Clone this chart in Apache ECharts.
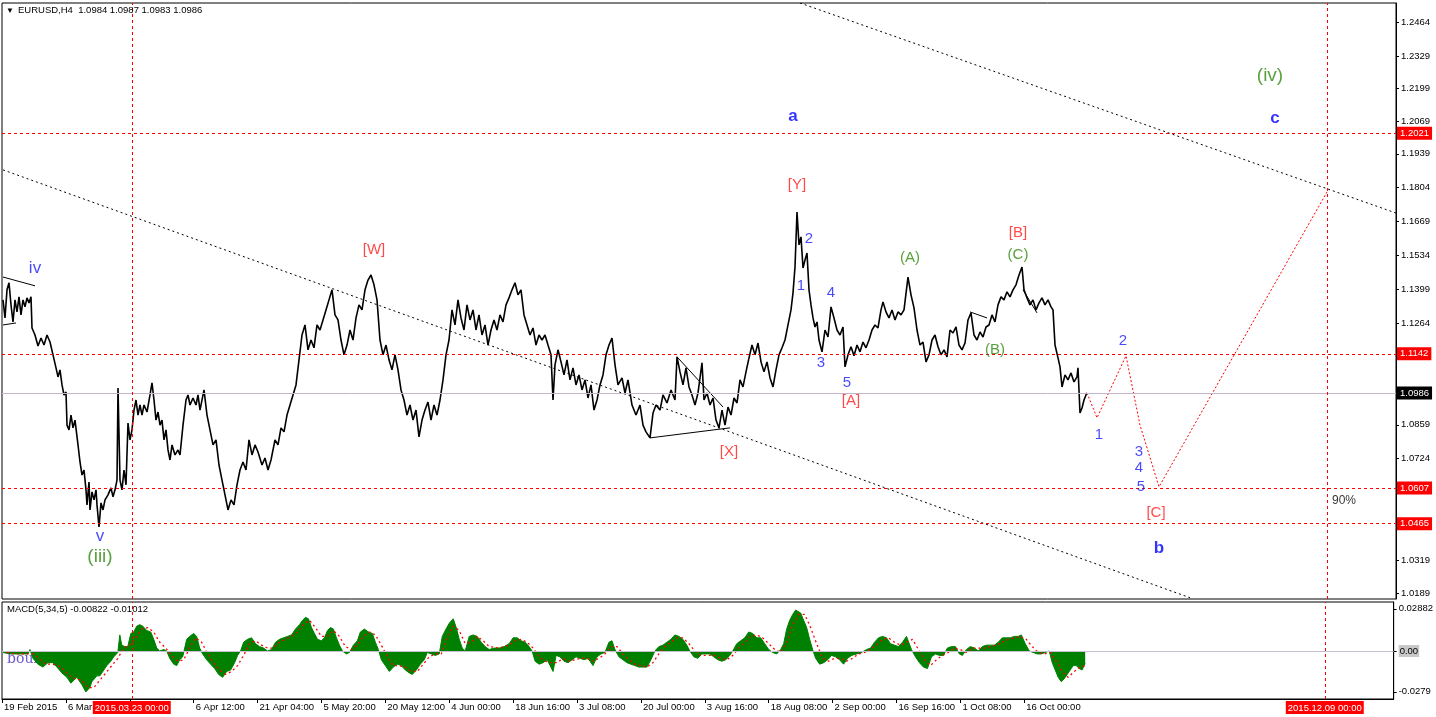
<!DOCTYPE html>
<html><head><meta charset="utf-8">
<script src="https://cdn.jsdelivr.net/npm/echarts@6/dist/echarts.min.js"></script>
<style>html,body{margin:0;padding:0;background:#fff}#c{width:1436px;height:717px}</style>
</head><body><div id="c"></div>
<script>
const FONT = '"Liberation Sans", Arial, sans-serif';

// bar index (H4 bars since 19 Feb 2015 00:00) , price
const price = [
[1,1.1357],[3,1.1285],[5,1.1397],[7,1.1425],[9,1.1337],[11,1.1269],[13,1.1357],[15,1.1309],[17,1.1369],[19,1.1297],[21,1.1357],[23,1.1329],[25,1.1365],[27,1.1345],[29,1.1369],[30,1.1245],[33,1.1217],[36,1.1173],[39,1.1205],[42,1.1177],[45,1.1217],[48,1.1189],[51,1.1138],[54,1.1086],[56,1.1050],[58,1.1078],[60,1.1018],[62,1.0978],[64,1.0990],[65,1.0858],[67,1.0839],[69,1.0898],[71,1.0847],[73,1.0878],[76,1.0779],[78,1.0711],[80,1.0659],[82,1.0679],[84,1.0600],[85,1.0540],[87,1.0631],[88,1.0520],[90,1.0592],[92,1.0560],[94,1.0600],[95,1.0540],[97,1.0452],[99,1.0548],[101,1.0520],[103,1.0560],[106,1.0580],[109,1.0608],[111,1.0572],[113,1.0600],[115,1.0639],[116,1.1006],[118,1.0639],[120,1.0600],[122,1.0679],[124,1.0620],[126,1.0866],[128,1.0799],[130,1.0839],[132,1.0918],[134,1.0958],[136,1.0898],[138,1.0938],[140,1.0898],[142,1.0938],[145,1.0910],[148,1.0978],[150,1.1026],[152,1.0958],[154,1.0878],[156,1.0910],[158,1.0858],[160,1.0878],[162,1.0799],[164,1.0839],[166,1.0759],[168,1.0719],[170,1.0779],[173,1.0739],[176,1.0759],[178,1.0739],[181,1.0858],[184,1.0958],[186,1.0978],[188,1.0938],[191,1.0966],[194,1.0938],[196,1.0978],[198,1.0918],
[202,1.0998],[205,1.0898],[208,1.0839],[211,1.0779],[214,1.0799],[217,1.0699],[220,1.0639],[223,1.0580],[226,1.0520],[229,1.0560],[232,1.0540],[235,1.0620],[238,1.0679],[241,1.0711],[244,1.0679],[247,1.0799],[250,1.0739],[253,1.0779],[256,1.0751],[260,1.0699],[263,1.0727],[266,1.0679],[269,1.0719],[273,1.0799],[276,1.0779],[279,1.0847],[282,1.0831],[285,1.0898],[288,1.0938],[291,1.0978],[294,1.1018],[297,1.1118],[300,1.1217],[303,1.1257],[306,1.1158],[309,1.1197],[312,1.1166],[315,1.1257],[318,1.1237],[321,1.1277],[324,1.1317],[327,1.1357],[330,1.1397],[333,1.1297],[336,1.1277],[339,1.1197],[342,1.1138],[345,1.1177],[348,1.1237],[351,1.1197],[354,1.1285],[357,1.1337],[360,1.1317],[363,1.1397],[366,1.1436],[369,1.1456],[372,1.1417],[375,1.1357],[378,1.1197],[381,1.1138],[384,1.1177],[387,1.1118],[390,1.1078],[393,1.1138],[396,1.1078],[399,1.0998],[402,1.0958],[405,1.0898],[408,1.0938],[411,1.0878],[414,1.0918],[417,1.0811],[420,1.0878],[423,1.0918],[426,1.0950],[429,1.0878],[432,1.0938],[435,1.0898],[438,1.0958],[441,1.1038],[444,1.1138],[447,1.1197],[450,1.1317],[453,1.1257],[456,1.1357],[459,1.1285],[462,1.1237],[465,1.1337],[468,1.1277],[471,1.1317],[474,1.1237],[477,1.1297],[480,1.1217],[483,1.1257],[486,1.1177],[489,1.1237],[492,1.1277],[495,1.1237],[498,1.1297],[501,1.1269],[504,1.1337],[507,1.1365],[510,1.1397],[513,1.1425],[516,1.1377],[519,1.1397],[522,1.1297],[525,1.1257],[528,1.1217],[531,1.1245],[534,1.1177],[537,1.1217],[540,1.1197],[543,1.1217],[546,1.1177],[549,1.1138],[551,1.0958],[553,1.1098],[556,1.1158],[559,1.1110],[562,1.1058],[565,1.1118],[568,1.1038],[571,1.1086],[574,1.1018],[577,1.1058],[580,1.0998],[583,1.1038],[586,1.0966],[589,1.1018],[592,1.0918],[595,1.0958],[598,1.1018],[601,1.1058],[604,1.1138],[607,1.1177],[610,1.1205],[613,1.1098],[616,1.1018],
[620,1.1046],[623,1.0986],[626,1.1038],[630,1.0938],[634,1.0898],[638,1.0938],[641,1.0858],[644,1.0831],[648,1.0807],[651,1.0906],[654,1.0938],[658,1.0918],[661,1.0978],[665,1.0946],[669,1.0998],[673,1.0958],[675,1.1130],[678,1.1070],[681,1.1018],[684,1.1086],[687,1.1010],[690,1.0978],[693,1.0938],[696,1.0986],[700,1.1106],[702,1.0958],[705,1.0986],[708,1.0938],[711,1.0966],[714,1.0878],[717,1.0847],[720,1.0918],[723,1.0858],[726,1.0930],[729,1.0898],[732,1.0966],[735,1.0946],[738,1.1038],[741,1.1010],[744,1.1070],[747,1.1126],[750,1.1177],[753,1.1138],[756,1.1185],[759,1.1110],[762,1.1070],[765,1.1110],[768,1.1046],[771,1.1010],[774,1.1078],[777,1.1138],[780,1.1166],[783,1.1197],[786,1.1257],[789,1.1317],[791,1.1385],[793,1.1488],[795,1.1707],[797,1.1576],[799,1.1608],[801,1.1484],[803,1.1516],[805,1.1544],[807,1.1397],[809,1.1337],[811,1.1285],[813,1.1249],[815,1.1269],[817,1.1197],[820,1.1150],[823,1.1237],[826,1.1209],[829,1.1329],[832,1.1285],[835,1.1237],[838,1.1217],[841,1.1249],[843,1.1090],[846,1.1138],[849,1.1170],[852,1.1134],[855,1.1177],[858,1.1150],[861,1.1189],[864,1.1166],[867,1.1197],[870,1.1237],[873,1.1257],[876,1.1245],[879,1.1317],[881,1.1349],[884,1.1309],[887,1.1285],[890,1.1317],[893,1.1277],[896,1.1309],[899,1.1297],[902,1.1317],[906,1.1448],[909,1.1377],[912,1.1325],[915,1.1237],[918,1.1177],[921,1.1189],[924,1.1110],[927,1.1138],[930,1.1197],[933,1.1217],[936,1.1170],[939,1.1138],[942,1.1158],[945,1.1130],[948,1.1237],[951,1.1225],[954,1.1249],[957,1.1177],[960,1.1158],[963,1.1185],[966,1.1277],[969,1.1305],[972,1.1217],[975,1.1197],[978,1.1229],[981,1.1209],[984,1.1249],[987,1.1257],[990,1.1297],[993,1.1269],[996,1.1337],[999,1.1369],[1002,1.1357],[1005,1.1389],[1008,1.1369],[1011,1.1397],[1014,1.1417],[1017,1.1456],[1020,1.1488],[1022,1.1397],[1025,1.1365],[1028,1.1337],[1031,1.1357],[1034,1.1317],[1037,1.1345],[1040,1.1365],[1043,1.1337],[1046,1.1357],[1049,1.1329],[1051,1.1317],[1053,1.1177],[1056,1.1126],[1058,1.1090],[1060,1.1010],[1063,1.1058],[1066,1.1038],[1069,1.1066],[1072,1.1030],[1075,1.1050],[1076,1.1086],[1078,1.0906],[1080,1.0926],[1082,1.0958],[1084,1.0978],[1085,1.0986]
];

const projection = [[1085,1.0986],[1095,1.0887],[1124,1.1134],[1138,1.0858],[1157,1.0612],[1325,1.1787]];
const channelLower = [[1,1.1875],[1188,1.0170]];
const channelUpper = [[798,1.2540],[1394,1.1703]];
const shortLines = [
  [[1,1.1448],[33,1.1413]],
  [[1,1.1257],[14,1.1265]],
  [[648,1.0807],[728,1.0847]],
  [[675,1.1130],[721,1.0930]],
  [[968,1.1309],[985,1.1285]],
  [[1021,1.1397],[1035,1.1305]]
];
const levels = [1.2021, 1.1142, 1.0607, 1.0465];
const lastPrice = 1.0986;
const vLines = [130, 1325];
const vLineText = ['2015.03.23 00:00', '2015.12.09 00:00'];

const priceTicks = [1.2464,1.2329,1.2199,1.2069,1.1939,1.1804,1.1669,1.1534,1.1399,1.1264,1.0859,1.0724,1.0319,1.0189];
const xTickIdx = [0,64,192,256,320,384,448,512,576,640,704,768,832,896,960,1024];
const xTickText = ['19 Feb 2015','6 Mar','6 Apr 12:00','21 Apr 04:00','5 May 20:00','20 May 12:00','4 Jun 00:00','18 Jun 16:00','3 Jul 08:00','20 Jul 00:00','3 Aug 16:00','18 Aug 08:00','2 Sep 00:00','16 Sep 16:00','1 Oct 08:00','16 Oct 00:00'];

const macdHist = [
[1,-0.001],[8,-0.002],[18,-0.002],[26,-0.002],[28,0.001],[31,-0.005],[36,-0.009],[41,-0.011],[46,-0.008],[51,-0.008],[55,-0.011],[60,-0.015],[65,-0.018],[69,-0.022],[75,-0.018],[80,-0.023],[84,-0.028],[86,-0.029],[88,-0.025],[90,-0.021],[95,-0.017],[98,-0.017],[102,-0.013],[105,-0.010],[109,-0.007],[112,-0.004],[116,-0.001],[118,0.011],[120,0.004],[123,0.003],[126,0.003],[129,0.012],[132,0.013],[135,0.017],[138,0.018],[141,0.017],[145,0.014],[149,0.013],[152,0.008],[155,0.002],[158,0],[162,0.001],[165,0],[168,-0.005],[172,-0.009],[175,-0.010],[178,-0.006],[181,-0.004],[185,0.008],[188,0.010],[192,0.012],[195,0.010],[198,0.002],[201,-0.002],[205,-0.006],[209,-0.009],[213,-0.012],[217,-0.016],[221,-0.018],[225,-0.014],[229,-0.013],[233,-0.008],[236,-0.003],[239,0],[242,0.006],[246,0.008],[250,0.009],[254,0.005],[258,0.003],[262,0.002],[266,0],[270,0.001],[274,0.006],[278,0.008],[282,0.009],[286,0.010],[290,0.011],[294,0.015],[298,0.018],[301,0.021],[304,0.023],[307,0.022],[310,0.016],[313,0.012],[316,0.008],[320,0.007],[323,0.009],[326,0.014],[329,0.016],[332,0.015],[335,0.009],[338,0.004],[341,0],[345,-0.002],[348,-0.001],[352,0.004],[356,0.007],[359,0.013],[363,0.015],[367,0.013],[371,0.012],[374,0.006],[377,0.001],[380,-0.006],[384,-0.010],[388,-0.014],[392,-0.011],[396,-0.009],[400,-0.010],[404,-0.013],[408,-0.015],[411,-0.016],[415,-0.013],[419,-0.009],[423,-0.006],[426,-0.001],[430,-0.002],[434,-0.003],[438,-0.002],[441,0.010],[444,0.014],[448,0.019],[452,0.022],[455,0.016],[458,0.008],[461,0.002],[464,0],[468,0.010],[472,0.011],[476,0.010],[480,0.006],[484,0.003],[488,0.001],[493,0.002],[498,0.002],[503,0.003],[508,0.005],[512,0.009],[516,0.009],[520,0.007],[524,0.006],[528,0.003],[531,0],[534,-0.007],[538,-0.009],[542,-0.008],[546,-0.006],[549,-0.010],[552,-0.014],[555,-0.003],[559,-0.004],[563,-0.007],[567,-0.008],[571,-0.006],[575,-0.004],[579,-0.005],[583,-0.006],[587,-0.005],[592,-0.010],[596,-0.004],[600,-0.002],[604,-0.001],[608,0.006],[611,0.007],[614,0.001],[618,-0.004],[622,-0.006],[626,-0.008],[630,-0.009],[634,-0.010],[638,-0.011],[642,-0.011],[646,-0.011],[650,-0.006],[654,0],[658,0.003],[662,0.004],[666,0.006],[670,0.008],[674,0.011],[678,0.010],[682,0.008],[686,0.004],[689,0],[693,-0.004],[697,-0.005],[701,-0.002],[705,-0.002],[709,-0.002],[713,-0.004],[717,-0.006],[721,-0.007],[725,-0.006],[729,-0.003],[732,0],[736,0.005],[740,0.007],[744,0.009],[748,0.013],[752,0.012],[756,0.009],[760,0.009],[764,0.005],[768,0.001],[772,-0.001],[776,-0.002],[780,0.001],[783,0.005],[786,0.015],[789,0.021],[792,0.025],[795,0.028],[797,0.0288],[800,0.026],[803,0.021],[806,0.016],[809,0.008],[812,0.001],[815,-0.005],[819,-0.009],[823,-0.008],[827,-0.006],[831,-0.003],[835,-0.004],[839,-0.006],[843,-0.009],[847,-0.005],[851,-0.003],[856,-0.002],[861,-0.001],[866,0.001],[870,0.002],[874,0.006],[878,0.009],[882,0.010],[886,0.009],[890,0.005],[894,0.004],[898,0.003],[902,0.006],[906,0.010],[908,0.011],[911,0.001],[915,-0.004],[919,-0.008],[923,-0.011],[927,-0.012],[931,-0.004],[935,-0.002],[939,-0.003],[943,-0.003],[947,0.002],[951,0.003],[955,0.003],[959,-0.002],[962,-0.003],[966,0.001],[970,0.003],[974,0.002],[978,0],[982,0.003],[986,0.004],[990,0.004],[994,0.004],[998,0.006],[1002,0.009],[1006,0.009],[1010,0.009],[1014,0.010],[1018,0.010],[1021,0.011],[1025,0.005],[1029,0],[1033,-0.001],[1037,-0.002],[1041,-0.002],[1045,-0.001],[1049,0],[1052,-0.008],[1055,-0.013],[1058,-0.018],[1061,-0.021],[1064,-0.019],[1067,-0.016],[1070,-0.013],[1073,-0.010],[1076,-0.010],[1079,-0.012],[1082,-0.013],[1085,-0.00822]
];
const macdSignal = [
[5,-0.001],[12,-0.002],[22,-0.002],[32,-0.002],[38,-0.006],[44,-0.009],[50,-0.009],[56,-0.010],[62,-0.013],[68,-0.017],[74,-0.019],[80,-0.020],[86,-0.025],[92,-0.025],[98,-0.020],[104,-0.015],[110,-0.010],[116,-0.005],[122,0.002],[128,0.004],[134,0.009],[140,0.015],[146,0.016],[152,0.013],[158,0.006],[164,0.002],[170,-0.003],[176,-0.007],[182,-0.006],[188,0.002],[194,0.009],[200,0.006],[206,-0.002],[212,-0.008],[218,-0.013],[224,-0.016],[230,-0.014],[236,-0.010],[242,-0.003],[248,0.005],[254,0.007],[260,0.004],[266,0.002],[272,0.002],[278,0.006],[284,0.008],[290,0.010],[296,0.013],[302,0.018],[308,0.021],[314,0.016],[320,0.010],[326,0.010],[332,0.014],[338,0.010],[344,0.003],[350,0.001],[356,0.004],[362,0.010],[368,0.013],[374,0.011],[380,0.004],[386,-0.004],[392,-0.010],[398,-0.010],[404,-0.011],[410,-0.014],[416,-0.014],[422,-0.009],[428,-0.004],[434,-0.002],[440,-0.002],[446,0.010],[452,0.017],[458,0.014],[464,0.005],[470,0.006],[476,0.010],[482,0.007],[488,0.003],[498,0.002],[508,0.004],[514,0.007],[520,0.008],[526,0.006],[532,0.002],[538,-0.004],[544,-0.007],[550,-0.008],[556,-0.008],[562,-0.005],[568,-0.007],[574,-0.006],[580,-0.005],[586,-0.005],[592,-0.007],[598,-0.005],[604,-0.002],[610,0.003],[616,0.003],[622,-0.002],[628,-0.006],[634,-0.009],[640,-0.010],[646,-0.011],[652,-0.008],[658,-0.002],[664,0.003],[670,0.006],[676,0.009],[682,0.009],[688,0.005],[694,0],[700,-0.003],[706,-0.003],[714,-0.003],[720,-0.005],[726,-0.006],[732,-0.003],[738,0.002],[744,0.006],[750,0.010],[756,0.011],[762,0.009],[768,0.005],[774,0.001],[780,-0.001],[786,0.006],[792,0.018],[798,0.025],[804,0.025],[810,0.016],[816,0.005],[822,-0.005],[828,-0.007],[834,-0.005],[840,-0.005],[846,-0.007],[852,-0.005],[858,-0.002],[864,-0.001],[870,0.001],[876,0.004],[882,0.008],[888,0.009],[894,0.006],[900,0.004],[906,0.006],[912,0.008],[918,0.001],[924,-0.006],[930,-0.010],[936,-0.006],[942,-0.003],[948,-0.001],[954,0.002],[960,0.001],[966,-0.001],[972,0.002],[978,0.002],[984,0.002],[990,0.003],[996,0.004],[1002,0.006],[1008,0.008],[1014,0.009],[1020,0.010],[1026,0.008],[1032,0.003],[1038,-0.001],[1044,-0.002],[1050,-0.001],[1056,-0.007],[1062,-0.014],[1068,-0.018],[1074,-0.014],[1080,-0.011],[1085,-0.01012]
];
const macdTickValues = [0.02882, 0, -0.0279];
const macdTickText = ['0.02882', '0.00', '-0.0279'];

// wave labels: text, bar index, price, style kind
const waveLabels = [
['iv',33,1.1481,'blueBig'],['v',98,1.0413,'blueBig'],['(iii)',98,1.0333,'greenBig'],
['[W]',372,1.1556,'red'],['a',791,1.2090,'blueBold'],['[Y]',795,1.1815,'red'],
['2',807,1.1600,'blue'],['1',799,1.1412,'blue'],['4',829,1.1385,'blue'],['3',819,1.1106,'blue'],['5',845,1.1026,'blue'],
['[A]',849,1.0954,'red'],['[X]',727,1.0751,'red'],['(A)',908,1.1524,'green'],['[B]',1016,1.1624,'red'],['(C)',1016,1.1536,'green'],['(B)',993,1.1158,'green'],
['2',1121,1.1194,'blue'],['1',1097,1.0819,'blue'],['3',1137,1.0751,'blue'],['4',1137,1.0687,'blue'],['5',1139,1.0612,'blue'],
['[C]',1154,1.0508,'red'],['b',1157,1.0365,'blueBold'],['(iv)',1268,1.2249,'greenBig'],['c',1273,1.2082,'blueBold'],['90%',1342,1.0556,'black']
];

const styles = {
  blue: {color:'#1a1aff', fontSize:15},
  blueBig: {color:'#1a1aff', fontSize:17},
  blueBold: {color:'#0000ff', fontSize:17, fontWeight:'bold'},
  red: {color:'#ff1c1c', fontSize:15},
  green: {color:'#2f8a0c', fontSize:15},
  greenBig: {color:'#2f8a0c', fontSize:19},
  black: {color:'#000', fontSize:12}
};

const chart = echarts.init(document.getElementById('c'), null, {renderer:'canvas'});
const dashRed = {color:'#ff0000', type:[3,3], width:1};
const SMALL = 9.5;

const option = {
  animation: false,
  backgroundColor: '#fff',
  grid: [
    {left:2, right:40, top:3, height:596, show:true, borderColor:'#000', borderWidth:1},
    {left:2, right:40, top:602, height:97, show:true, borderColor:'#000', borderWidth:1}
  ],
  xAxis: [
    {gridIndex:0, type:'value', min:0, max:1394, show:false, axisLine:{onZero:false}},
    {gridIndex:1, type:'value', min:0, max:1394,
     axisLine:{show:true, onZero:false, lineStyle:{color:'#000'}}, splitLine:{show:false},
     axisTick:{show:true, customValues:[0,64,128,192,256,320,384,448,512,576,640,704,768,832,896,960,1024], length:4, lineStyle:{color:'#000'}},
     axisLabel:{customValues:xTickIdx, formatter:v => xTickText[xTickIdx.indexOf(v)], align:'left', margin:3, padding:[0,0,0,2], fontSize:SMALL, color:'#000', fontFamily:FONT}
    }
  ],
  yAxis: [
    {gridIndex:0, type:'value', position:'right', min:1.0165, max:1.2540,
     axisLine:{show:true, onZero:false, lineStyle:{color:'#000'}}, splitLine:{show:false},
     axisTick:{show:true, customValues:priceTicks, length:3, lineStyle:{color:'#000'}},
     axisLabel:{customValues:priceTicks, formatter:v => v.toFixed(4), margin:5, fontSize:SMALL, color:'#000', fontFamily:FONT}
    },
    {gridIndex:1, type:'value', position:'right', min:-0.032832, max:0.033516,
     axisLine:{show:true, onZero:false, lineStyle:{color:'#000'}}, splitLine:{show:false},
     axisTick:{show:true, customValues:macdTickValues, length:3, lineStyle:{color:'#000'}},
     axisLabel:{customValues:macdTickValues, margin:5, fontSize:SMALL, color:'#000', fontFamily:FONT,
       formatter: v => { const t = macdTickText[macdTickValues.indexOf(v)]; return v === 0 ? '{z|' + t + '}' : t; },
       rich:{z:{backgroundColor:'#c8c8c8', fontSize:SMALL, fontFamily:FONT, color:'#000', padding:[1,1]}}}
    }
  ],
  series: [
    {type:'line', name:'channelLower', xAxisIndex:0, yAxisIndex:0, data:channelLower, showSymbol:false, silent:true,
     lineStyle:{color:'#000', width:1, type:[2,3]}},
    {type:'line', name:'channelUpper', xAxisIndex:0, yAxisIndex:0, data:channelUpper, showSymbol:false, silent:true,
     lineStyle:{color:'#000', width:1, type:[2,3]}},
    ...shortLines.map(seg => ({type:'line', xAxisIndex:0, yAxisIndex:0, data:seg, showSymbol:false, silent:true,
      lineStyle:{color:'#000', width:1}})),
    {type:'line', name:'EURUSD', xAxisIndex:0, yAxisIndex:0, data:price, showSymbol:false, silent:true,
     lineStyle:{color:'#000', width:1.6}, z:3,
     markLine:{silent:true, symbol:['none','none'], animation:false, precision:4,
       data:[
         ...levels.map(v => ({yAxis:v, lineStyle:dashRed,
           label:{show:true, position:'end', distance:1, formatter:p => Number(p.value).toFixed(4), backgroundColor:'#ff0000', color:'#fff', padding:[2,3,1,3], fontSize:SMALL, fontFamily:FONT}})),
         {yAxis:lastPrice, lineStyle:{color:'#c4b4cc', type:'solid', width:1},
           label:{show:true, position:'end', distance:1, formatter:p => Number(p.value).toFixed(4), backgroundColor:'#000', color:'#fff', padding:[2,3,1,3], fontSize:SMALL, fontFamily:FONT}},
         ...vLines.map(v => ({xAxis:v, lineStyle:dashRed, label:{show:false}}))
       ]}
    },
    {type:'line', name:'projection', xAxisIndex:0, yAxisIndex:0, data:projection, showSymbol:false, silent:true,
     lineStyle:{color:'#ff0000', width:1, type:[2,2]}},
    {type:'scatter', name:'labels', xAxisIndex:0, yAxisIndex:0, symbolSize:0, silent:true, z:5,
     data: waveLabels.map(l => ({value:[l[1], l[2]],
       label:Object.assign({show:true, position:'inside', align:'center', verticalAlign:'middle', formatter:l[0], fontFamily:FONT}, styles[l[3]])}))
    },
    {type:'line', name:'MACD', xAxisIndex:1, yAxisIndex:1, data:macdHist, showSymbol:false, silent:true, z:2,
     lineStyle:{color:'#008000', width:1}, areaStyle:{color:'#008000', opacity:1},
     markLine:{silent:true, symbol:['none','none'], animation:false, precision:4,
       data:[
         {yAxis:0, lineStyle:{color:'#c8c0d0', type:'solid', width:1}, label:{show:false}},
         ...vLines.map((v,i) => ({xAxis:v, lineStyle:dashRed,
           label:{show:true, position:'start', distance:2, formatter:vLineText[i], backgroundColor:'#ff0000', color:'#fff', padding:[2,2,1,2], fontSize:SMALL, fontFamily:FONT}}))
       ]}
    },
    {type:'line', name:'Signal', xAxisIndex:1, yAxisIndex:1, data:macdSignal, showSymbol:false, silent:true, z:3,
     lineStyle:{color:'#ff0000', width:1.3, type:[2,3]}}
  ],
  graphic: [
    {type:'text', left:6, top:7, z:100, style:{text:'▼', fontSize:8, fill:'#000', fontFamily:FONT}},
    {type:'text', left:18, top:5, z:100, style:{text:'EURUSD,H4  1.0984 1.0987 1.0983 1.0986', fontSize:SMALL, fill:'#000', fontFamily:FONT}},
    {type:'text', left:7, top:604, z:100, style:{text:'MACD(5,34,5) -0.00822 -0.01012', fontSize:SMALL, fill:'#000', fontFamily:FONT}},
    {type:'text', left:7, top:652, z:0, style:{text:'boubi', fontSize:14, fill:'#6a5acd', fontFamily:'"DejaVu Serif", "Liberation Serif", serif'}}
  ]
};
chart.setOption(option);
</script>
</body></html>
